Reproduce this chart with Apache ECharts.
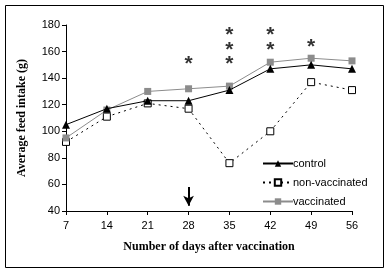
<!DOCTYPE html>
<html>
<head>
<meta charset="utf-8">
<script src="https://cdn.jsdelivr.net/npm/echarts@6/dist/echarts.min.js"></script>
<style>
  html, body { margin: 0; padding: 0; background: #fff; }
  #chart { width: 389px; height: 273px; }
</style>
</head>
<body>
<div id="chart"></div>
<script>
let days = [7, 14, 21, 28, 35, 42, 49, 56];
let control = [105, 117, 123, 123, 131, 147, 150, 147];
let nonVaccinated = [92, 111, 121, 117, 76, 100, 137, 131];
let vaccinated = [95, 116, 130, 132, 134, 152, 155, 153];
// significance stars [day, level]
let stars = [[28, 154], [35, 154], [35, 165], [35, 176], [42, 165], [42, 176], [49, 167]];
// vaccination arrow at day 28
let arrow = [[28, 58], [28, 44]];

let fontSans = '"Liberation Sans", Arial, sans-serif';
let fontSerif = '"Liberation Serif", "Times New Roman", serif';

let pair = (xs, ys) => xs.map((x, i) => [x, ys[i]]);

let chart = echarts.init(document.getElementById('chart'));

let option = {
  animation: false,
  grid: {
    left: 66,
    right: 37,
    top: 25,
    bottom: 62
  },
  graphic: [{
    type: 'rect',
    shape: { x: 5.5, y: 5.5, width: 378, height: 262 },
    style: { fill: 'none', stroke: '#000', lineWidth: 1 }
  }],
  legend: {
    orient: 'vertical',
    left: 257,
    top: 153,
    itemWidth: 30,
    itemHeight: 8,
    itemGap: 8,
    textStyle: { fontFamily: fontSans, fontSize: 11, color: '#000', padding: [0, 0, 0, -5] },
    data: ['control', 'non-vaccinated', 'vaccinated']
  },
  xAxis: {
    type: 'value',
    min: 7,
    max: 56,
    interval: 7,
    name: 'Number of days after vaccination',
    nameLocation: 'middle',
    nameGap: 30,
    nameTextStyle: { fontFamily: fontSerif, fontWeight: 'bold', fontSize: 12, color: '#000' },
    axisLine: { lineStyle: { color: '#000' } },
    axisTick: { length: 4, lineStyle: { color: '#000' } },
    axisLabel: { fontFamily: fontSans, fontSize: 11, color: '#000', margin: 9 },
    splitLine: { show: false }
  },
  yAxis: {
    type: 'value',
    min: 40,
    max: 180,
    interval: 20,
    name: 'Average feed intake (g)',
    nameLocation: 'middle',
    nameGap: 38,
    nameTextStyle: { fontFamily: fontSerif, fontWeight: 'bold', fontSize: 12, color: '#000' },
    axisLine: { show: true, lineStyle: { color: '#000' } },
    axisTick: { show: true, length: 4, lineStyle: { color: '#000' } },
    axisLabel: { fontFamily: fontSans, fontSize: 11, color: '#000', margin: 6 },
    splitLine: { show: false }
  },
  series: [
    {
      name: 'non-vaccinated',
      type: 'line',
      data: pair(days, nonVaccinated),
      symbol: 'rect',
      symbolSize: 7,
      lineStyle: { color: '#000', width: 1, type: [2, 4] },
      itemStyle: { color: '#fff', borderColor: '#000', borderWidth: 1 },
      z: 2
    },
    {
      name: 'vaccinated',
      type: 'line',
      data: pair(days, vaccinated),
      symbol: 'rect',
      symbolSize: 7,
      lineStyle: { color: '#8c8c8c', width: 1 },
      itemStyle: { color: '#8c8c8c', borderWidth: 0 },
      z: 3
    },
    {
      name: 'control',
      type: 'line',
      data: pair(days, control),
      symbol: 'triangle',
      symbolSize: 8,
      lineStyle: { color: '#000', width: 1 },
      itemStyle: { color: '#000', borderWidth: 0 },
      z: 4,
      markLine: {
        silent: true,
        symbol: ['none', 'arrow'],
        symbolSize: [8, 10],
        label: { show: false },
        lineStyle: { color: '#000', width: 2, type: 'solid' },
        data: [[{ coord: arrow[0] }, { coord: arrow[1] }]]
      }
    },
    {
      name: 'stars',
      type: 'scatter',
      data: stars,
      symbolSize: 0,
      silent: true,
      label: {
        show: true,
        formatter: '*',
        position: 'inside',
        offset: [0, 5],
        fontFamily: fontSans,
        fontWeight: 'bold',
        fontSize: 21,
        color: '#000'
      }
    }
  ]
};

chart.setOption(option);
</script>
</body>
</html>
